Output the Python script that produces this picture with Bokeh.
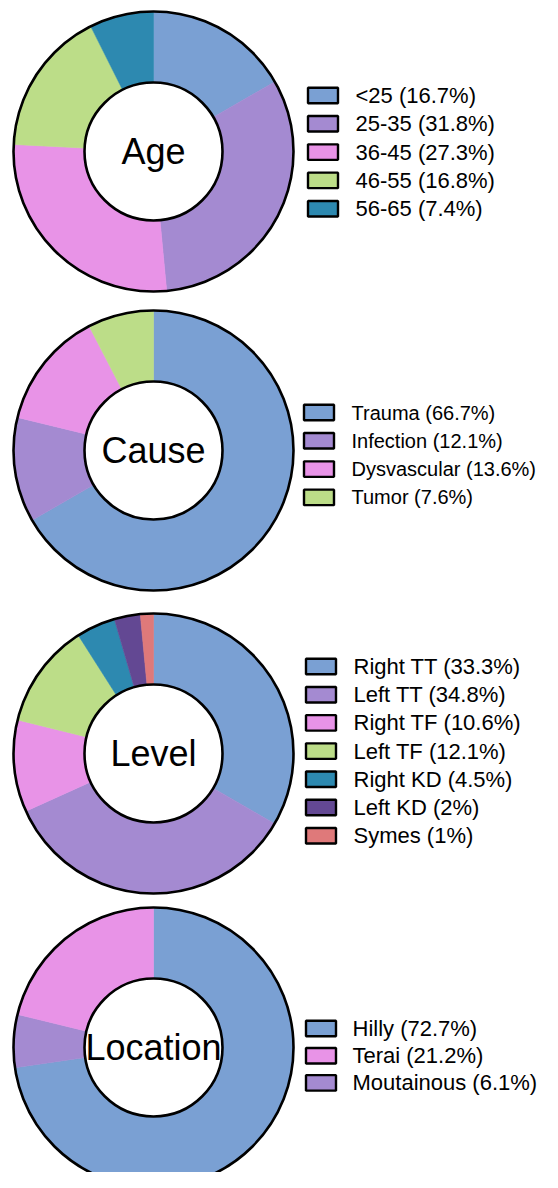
import numpy as np
from bokeh.plotting import figure
from bokeh.models import Range1d, ColumnDataSource
from bokeh.core.properties import value
from bokeh.embed import file_html
from bokeh.resources import INLINE

# ---------------- data ----------------
age_labels = ["<25", "25-35", "36-45", "46-55", "56-65"]
age_pct_text = ["16.7", "31.8", "27.3", "16.8", "7.4"]
age_share = [16.7, 31.8, 27.3, 16.8, 7.4]

cause_labels = ["Trauma", "Infection", "Dysvascular", "Tumor"]
cause_pct_text = ["66.7", "12.1", "13.6", "7.6"]
cause_share = [66.7, 12.1, 13.6, 7.6]

level_labels = ["Right TT", "Left TT", "Right TF", "Left TF", "Right KD", "Left KD", "Symes"]
level_pct_text = ["33.3", "34.8", "10.6", "12.1", "4.5", "2", "1"]
level_share = [33.3, 34.8, 10.6, 12.1, 4.5, 3.0, 1.5]

location_labels = ["Hilly", "Terai", "Moutainous"]
location_pct_text = ["72.7", "21.2", "6.1"]
location_share = [72.7, 21.2, 6.1]
location_slice_order = ["Hilly", "Moutainous", "Terai"]

BLUE = "#7AA0D3"
PURPLE = "#A48AD1"
PINK = "#E893E7"
GREEN = "#BCDD88"
TEAL = "#2D89B0"
DPURPLE = "#634893"
SALMON = "#DF797A"

age_colors = [BLUE, PURPLE, PINK, GREEN, TEAL]
cause_colors = [BLUE, PURPLE, PINK, GREEN]
level_colors = [BLUE, PURPLE, PINK, GREEN, TEAL, DPURPLE, SALMON]
location_colors = [BLUE, PINK, PURPLE]

FONT = "Liberation Sans"
W, H = 542, 1172

p = figure(width=W, height=H, output_backend="svg", toolbar_location=None,
           x_range=Range1d(0, W), y_range=Range1d(-H, 0),
           x_axis_location=None, y_axis_location=None, min_border=0,
           outline_line_color=None)
p.xgrid.visible = False
p.ygrid.visible = False
p.background_fill_color = "white"
p.border_fill_color = "white"

R_OUT = 140
R_IN = 69


def donut(cx, cy, labels, shares, colors, title, slice_order,
          pct_text, leg_box_x, leg_text_x, leg_y0, leg_dy, leg_font="22px"):
    order = [labels.index(s) for s in slice_order]
    vals = np.array([shares[i] for i in order], dtype=float)
    cols = [colors[i] for i in order]
    cum = np.concatenate([[0.0], np.cumsum(vals)]) / vals.sum()
    start = np.pi / 2 - 2 * np.pi * cum[:-1]
    end = np.pi / 2 - 2 * np.pi * cum[1:]
    src = ColumnDataSource(dict(x=[cx] * len(vals), y=[-cy] * len(vals),
                                start=start, end=end, color=cols))
    p.annular_wedge(x="x", y="y", inner_radius=R_IN, outer_radius=R_OUT,
                    start_angle="start", end_angle="end", direction="clock",
                    fill_color="color", line_color="color", line_width=0.6,
                    source=src)
    p.circle(x=[cx], y=[-cy], radius=R_OUT, fill_color=None,
             line_color="black", line_width=2.6)
    p.circle(x=[cx], y=[-cy], radius=R_IN, fill_color="white",
             line_color="black", line_width=2.6)
    p.text(x=[cx], y=[-cy], text=[title], text_align="center",
           text_baseline="middle", text_font=value(FONT),
           text_font_size="36px", text_color="black")
    n = len(labels)
    ys = [-(leg_y0 + i * leg_dy) for i in range(n)]
    p.rect(x=[leg_box_x + 15.5] * n, y=ys, width=30, height=15.5,
           fill_color=colors, line_color="black", line_width=2.4)
    texts = [f"{l} ({t}%)" for l, t in zip(labels, pct_text)]
    p.text(x=[leg_text_x] * n, y=ys, text=texts, text_align="left",
           text_baseline="middle", text_font=value(FONT),
           text_font_size=leg_font, text_color="black")


donut(153, 151, age_labels, age_share, age_colors, "Age", age_labels,
      age_pct_text, 307, 355, 95, 28.3)
donut(153, 450, cause_labels, cause_share, cause_colors, "Cause", cause_labels,
      cause_pct_text, 303, 351, 412, 28.3, leg_font="20px")
donut(153, 753, level_labels, level_share, level_colors, "Level", level_labels,
      level_pct_text, 305, 353, 666, 28.2)
donut(153, 1047, location_labels, location_share, location_colors, "Location",
      location_slice_order, location_pct_text, 305, 352, 1028, 27.2)

open("out.html", "w").write(file_html(p, INLINE))
